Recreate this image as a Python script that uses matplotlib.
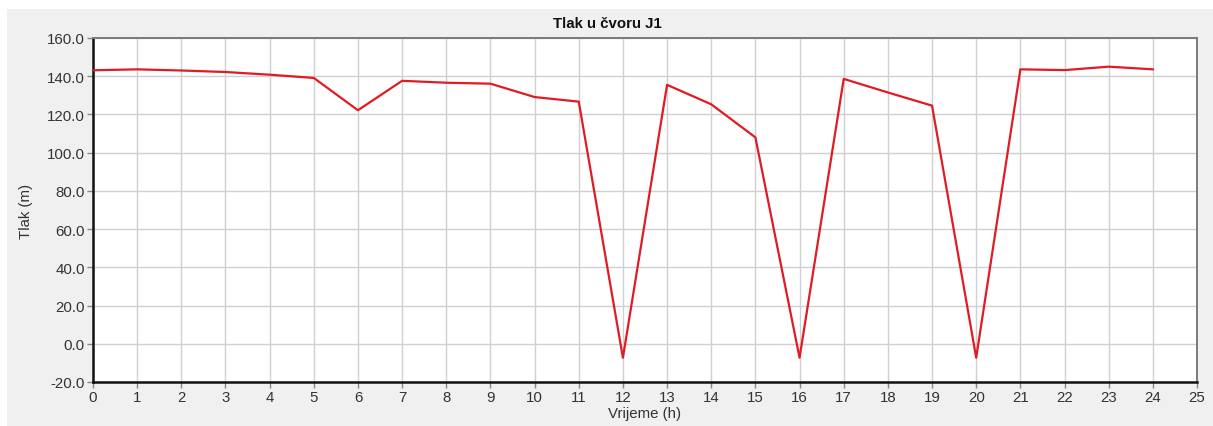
import matplotlib
matplotlib.use("Agg")
import matplotlib.pyplot as plt
from matplotlib.patches import Rectangle

hours = [0, 1, 2, 3, 4, 5, 6, 7, 8, 9, 10, 11, 12, 13, 14, 15, 16, 17, 18, 19, 20, 21, 22, 23, 24]
pressure = [143.1, 143.6, 143.0, 142.2, 140.8, 139.1, 122.2, 137.6, 136.6, 136.1, 129.1, 126.7, -7.3,
            135.5, 125.3, 108.0, -7.3, 138.6, 131.5, 124.6, -7.3, 143.6, 143.2, 145.0, 143.6]
xticks = list(range(0, 26))
yticks = [-20, 0, 20, 40, 60, 80, 100, 120, 140, 160]

plt.rcParams['font.family'] = ['Liberation Sans', 'DejaVu Sans']

W, H = 1213, 427
fig = plt.figure(figsize=(W / 100, H / 100), dpi=100)
fig.patch.set_facecolor('white')
fig.patches.append(Rectangle((7 / W, 0), 1 - 7 / W, (H - 10) / H, transform=fig.transFigure,
                             facecolor='#f0f0f0', edgecolor='none', zorder=-10))

ax = fig.add_axes([93 / W, (H - 383) / H, (1197 - 93) / W, (383 - 39) / H])
ax.set_zorder(5)
ax.set_facecolor('white')
ax.plot(hours, pressure, color='#e01b24', lw=1.6, zorder=3)

ax.set_xlim(0, 25)
ax.set_ylim(-20, 160)
ax.set_xticks(xticks)
ax.set_yticks(yticks)
ax.set_yticklabels([f"{v:.1f}" for v in yticks])
ax.grid(True, color='#d0d0d0', lw=1.0)
ax.set_axisbelow(True)

for s in ['left', 'bottom']:
    ax.spines[s].set_color('#111111')
    ax.spines[s].set_linewidth(1.8)
for s in ['top', 'right']:
    ax.spines[s].set_color('#7a7a7a')
    ax.spines[s].set_linewidth(1.4)

ax.tick_params(axis='both', direction='out', length=4, width=1, color='#888888',
               labelsize=10.8, labelcolor='#333333', pad=2)

ax.set_title('Tlak u čvoru J1', fontsize=10.8, fontweight='bold', color='#111111', pad=8,
             x=(607 - 93) / (1197 - 93))
ax.set_xlabel('Vrijeme (h)', fontsize=10.8, color='#333333', labelpad=1)
ax.set_ylabel('Tlak (m)', fontsize=10.8, color='#333333', labelpad=10)

fig.savefig('out.png', dpi=100, facecolor=fig.get_facecolor())
